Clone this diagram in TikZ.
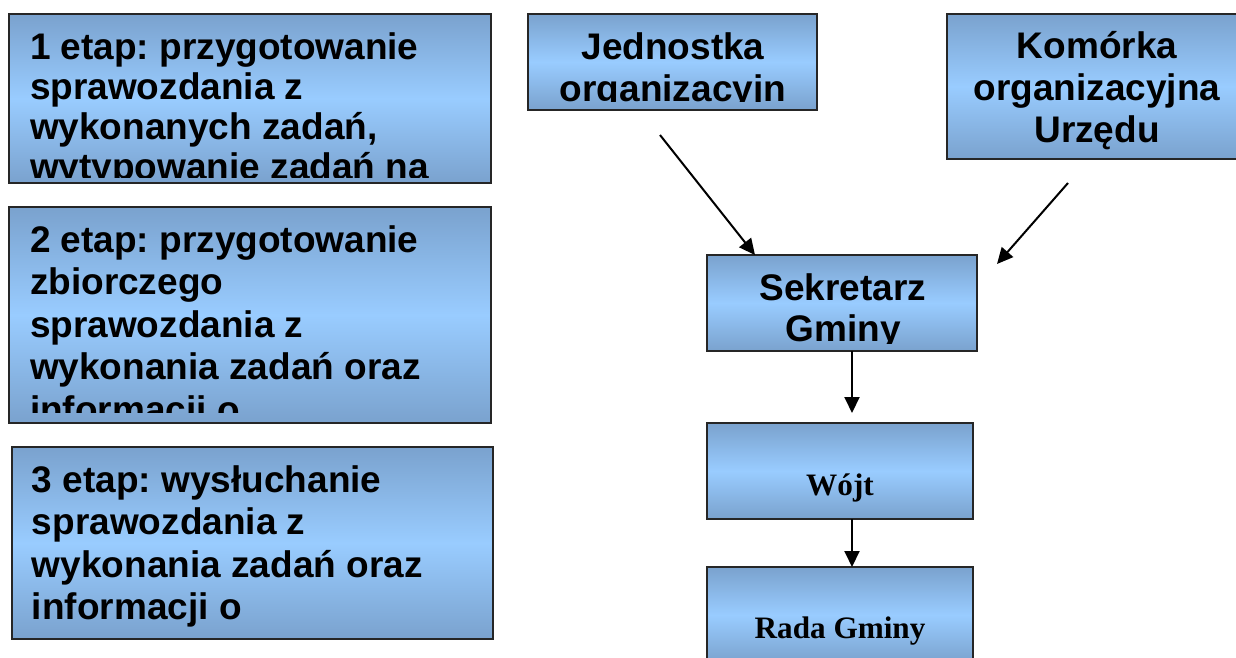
\documentclass[tikz,border=0pt]{standalone}
\usepackage{fontspec}
\setmainfont{Liberation Sans}
\newfontfamily\serifbf{Liberation Serif}
\usetikzlibrary{arrows.meta}
\frenchspacing
\definecolor{bdark}{RGB}{122,162,206}
\definecolor{blight}{RGB}{153,204,255}
\tikzset{
  box/.style={rectangle, draw=black!85, line width=0.8pt, inner sep=0pt, outer sep=0pt,
    top color=bdark, bottom color=bdark, middle color=blight},
  txt/.style={inner sep=0pt, outer sep=0pt, font=\bfseries},
  arr/.style={line width=1pt, -{Triangle[length=8pt,width=7.5pt]}},
}
\newcommand{\lefttext}[2]{\parbox[t]{250pt}{\fontsize{18.5pt}{#1}\selectfont\bfseries\frenchspacing\raggedright #2}}
\newcommand{\ctext}[2]{\parbox[t]{160pt}{\fontsize{18.5pt}{#1}\selectfont\bfseries\centering #2}}
\begin{document}
\begin{tikzpicture}[x=0.5pt,y=-0.5pt]
\useasboundingbox (0,0) rectangle (1236,658);
\clip (0,0) rectangle (1236,658);
% boxes
\node[box, minimum width=241pt, minimum height=84.5pt] (b1) at (250,98.5) {};
\node[box, minimum width=241pt, minimum height=108pt] (b2) at (250,315) {};
\node[box, minimum width=240.5pt, minimum height=96pt] (b3) at (252.5,543) {};
\node[box, minimum width=144.5pt, minimum height=48pt] (jed) at (672.5,62) {};
\node[box, minimum width=150pt, minimum height=72.5pt] (kom) at (1097,86.5) {};
\node[box, minimum width=135pt, minimum height=48pt] (sek) at (842,303) {};
\node[box, minimum width=133pt, minimum height=48pt] (wojt) at (840,471) {};
\node[box, minimum width=133pt, minimum height=48pt] (rada) at (840,615) {};
% texts (clipped to the boxes' text areas)
\begin{scope}
\clip (9,14) rectangle (491,177);
\node[txt, anchor=base west] (t1) at (30,60) {\lefttext{20pt}{1 etap: przygotowanie\\sprawozdania z\\wykonanych zadań,\\wytypowanie zadań na}};
\end{scope}
\begin{scope}
\clip (9,207) rectangle (491,412);
\node[txt, anchor=base west] (t2) at (30,252) {\lefttext{21.3pt}{2 etap: przygotowanie\\zbiorczego\\sprawozdania z\\wykonania zadań oraz\\informacji o}};
\end{scope}
\begin{scope}
\clip (12,447) rectangle (493,639);
\node[txt, anchor=base west] (t3) at (32,492) {\lefttext{21.3pt}{3 etap: wysłuchanie\\sprawozdania z\\wykonania zadań oraz\\informacji o}};
\end{scope}
\begin{scope}
\clip (528,14) rectangle (817,102);
\node[txt, anchor=base] (tj) at (673,60) {\ctext{20.8pt}{Jednostka\\organizacyjn}};
\end{scope}
\node[txt, anchor=base] (tk) at (1097,59) {\ctext{21pt}{Komórka\\organizacyjna\\Urzędu}};
\begin{scope}
\clip (707,255) rectangle (977,343);
\node[txt, anchor=base] (ts) at (843,300) {\ctext{20.8pt}{Sekretarz\\Gminy}};
\end{scope}
\node[txt, anchor=base, font=\serifbf\bfseries\fontsize{15.6pt}{18pt}\selectfont] (tw) at (840,495) {Wójt};
\node[txt, anchor=base, font=\serifbf\bfseries\fontsize{15.6pt}{18pt}\selectfont] (tr) at (840,638) {Rada Gminy};
% connectors
\coordinate (js) at (660,135);
\coordinate (ks) at (1068,183);
\coordinate (ke) at (997,264);
\draw[arr] (js) -- ([xshift=-43.5pt]sek.north);
\draw[arr] (ks) -- (ke);
\draw[arr] ([xshift=5pt]sek.south) -- ([xshift=6pt,yshift=5pt]wojt.north);
\draw[arr] ([xshift=6pt]wojt.south) -- ([xshift=6pt]rada.north);
\end{tikzpicture}
\end{document}
